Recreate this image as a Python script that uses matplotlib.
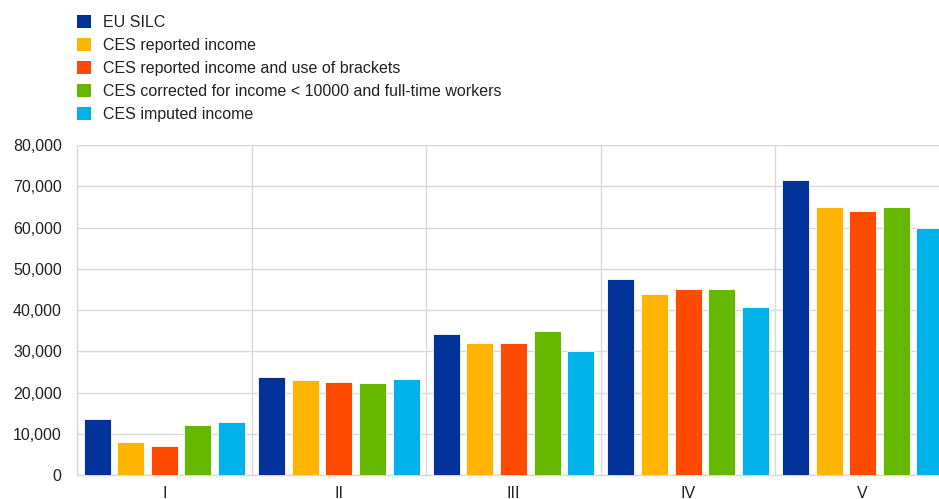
import numpy as np
import matplotlib
matplotlib.use("Agg")
import matplotlib.pyplot as plt
from matplotlib.ticker import FuncFormatter, MultipleLocator
from matplotlib.patches import Patch

# data
quintiles = ["I", "II", "III", "IV", "V"]
series_names = [
    "EU SILC",
    "CES reported income",
    "CES reported income and use of brackets",
    "CES corrected for income < 10000 and full-time workers",
    "CES imputed income",
]
eu_silc = [13500, 23700, 34100, 47500, 71400]
ces_reported = [8000, 23000, 32000, 44000, 65000]
ces_brackets = [7000, 22500, 32000, 45000, 64000]
ces_corrected = [12000, 22400, 35000, 45000, 65000]
ces_imputed = [12900, 23300, 30000, 40700, 60000]
colors = ["#003299", "#FFB400", "#FF4B00", "#65B800", "#00B1EA"]

plt.rcParams['font.family'] = ['Liberation Sans', 'DejaVu Sans']

fig = plt.figure(figsize=(9.39, 4.99), dpi=100)
ax = fig.add_axes([0.082, 0.0481, 0.9297, 0.6613])

all_series = [eu_silc, ces_reported, ces_brackets, ces_corrected, ces_imputed]
x = np.arange(len(quintiles))
pitch = 0.1925
width = 0.155
for i, (vals, col) in enumerate(zip(all_series, colors)):
    offs = (i - 2) * pitch
    ax.bar(x + offs, vals, width=width, color=col, edgecolor="#ffffff",
           linewidth=0.6, zorder=3)

ax.set_xlim(-0.5, 4.5)
ax.set_ylim(0, 80000)
ax.yaxis.set_major_locator(MultipleLocator(10000))
ax.yaxis.set_major_formatter(FuncFormatter(lambda v, p: f"{int(v):,}"))
ax.set_xticks(x)
ax.set_xticklabels(quintiles)
ax.set_xticks(np.arange(-0.5, 5.0, 1.0), minor=True)

ax.grid(axis="y", which="major", color="#d9d9d9", linewidth=1.0, zorder=0)
ax.grid(axis="x", which="minor", color="#d9d9d9", linewidth=1.0, zorder=0)
ax.grid(axis="x", which="major", visible=False)

for s in ["top", "right"]:
    ax.spines[s].set_visible(False)
for s in ["left", "bottom"]:
    ax.spines[s].set_color("#d9d9d9")
    ax.spines[s].set_linewidth(1.0)

ax.tick_params(axis="both", which="both", length=0, labelsize=11.5,
               labelcolor="#222222")
ax.tick_params(axis="y", pad=11)
ax.tick_params(axis="x", pad=8)

handles = [Patch(facecolor=c, edgecolor="none") for c in colors]
fig.legend(handles, series_names, loc="upper left",
           bbox_to_anchor=(77 / 939, 1 - 15 / 499), frameon=False,
           fontsize=11.5, handlelength=0.87, handleheight=0.87,
           handletextpad=0.75, labelspacing=0.5, borderaxespad=0,
           borderpad=0, labelcolor="#222222")

fig.savefig("out.png", dpi=100)
